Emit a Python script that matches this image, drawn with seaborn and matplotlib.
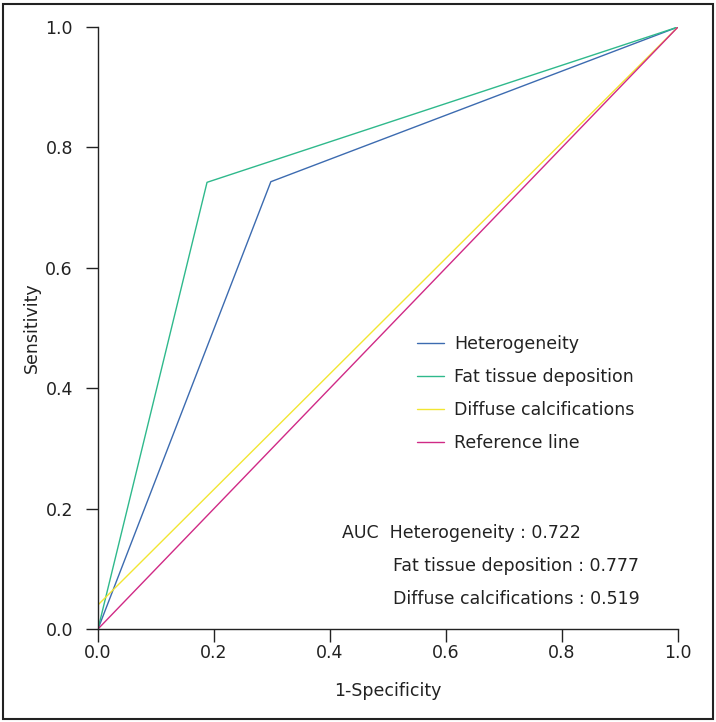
import matplotlib
matplotlib.use("Agg")
import matplotlib.pyplot as plt
import seaborn as sns
import pandas as pd
from matplotlib.patches import Rectangle

# Data (1-Specificity, Sensitivity)
het_x = [0.0, 0.298, 1.0]
het_y = [0.0, 0.743, 1.0]
fat_x = [0.0, 0.188, 1.0]
fat_y = [0.0, 0.742, 1.0]
dif_x = [0.0, 0.0, 1.0]
dif_y = [0.0, 0.04, 1.0]
ref_x = [0.0, 1.0]
ref_y = [0.0, 1.0]

names = ["Heterogeneity", "Fat tissue deposition", "Diffuse calcifications", "Reference line"]
colors = ["#3c6bb0", "#2fb98c", "#f2e632", "#d02a86"]
auc_lines = ["AUC  Heterogeneity : 0.722", "Fat tissue deposition : 0.777", "Diffuse calcifications : 0.519"]
ticks = [0.0, 0.2, 0.4, 0.6, 0.8, 1.0]

sns.set_theme(style="ticks")
plt.rcParams['font.family'] = ['DejaVu Sans']

fig = plt.figure(figsize=(7.16, 7.22), dpi=100)
ax = fig.add_axes([98/716, 1-629/722, 580/716, 602/722])

series = [(het_x, het_y), (fat_x, fat_y), (dif_x, dif_y), (ref_x, ref_y)]
for (xs, ys), name, c in zip(series, names, colors):
    df = pd.DataFrame({"x": xs, "y": ys})
    sns.lineplot(data=df, x="x", y="y", ax=ax, color=c, lw=1.0, label=name,
                 sort=False, estimator=None)

ax.set_xlim(0, 1)
ax.set_ylim(0, 1)
ax.set_xticks(ticks)
ax.set_yticks(ticks)
ax.set_xticklabels([f"{t:.1f}" for t in ticks], fontsize=12.5, color="#222222")
ax.set_yticklabels([f"{t:.1f}" for t in ticks], fontsize=12.5, color="#222222")
ax.tick_params(length=9, width=1.0, color="#222222")
ax.tick_params(axis="x", pad=2)
ax.tick_params(axis="y", pad=9)
for s in ["top", "right"]:
    ax.spines[s].set_visible(False)
for s in ["left", "bottom"]:
    ax.spines[s].set_color("#222222")
    ax.spines[s].set_linewidth(1.0)
ax.set_xlabel("1-Specificity", fontsize=12.5, color="#222222", labelpad=14)
ax.set_ylabel("Sensitivity", fontsize=12.5, color="#222222", labelpad=3)

leg = ax.legend(loc="upper left", bbox_to_anchor=(0.523, 0.515), frameon=False,
                fontsize=12.5, handlelength=1.55, handletextpad=0.57, labelspacing=0.87)
for t in leg.get_texts():
    t.set_color("#222222")

ax.text(0.42, 0.16, auc_lines[0], transform=ax.transAxes, fontsize=12.5, color="#222222", va="center")
ax.text(0.509, 0.105, auc_lines[1], transform=ax.transAxes, fontsize=12.5, color="#222222", va="center")
ax.text(0.509, 0.05, auc_lines[2], transform=ax.transAxes, fontsize=12.5, color="#222222", va="center")

fig.patches.append(Rectangle((3/716, 3/722), 710/716, 715/722, transform=fig.transFigure,
                             fill=False, edgecolor="#222222", lw=1.5))

fig.savefig("out.png", dpi=100)
